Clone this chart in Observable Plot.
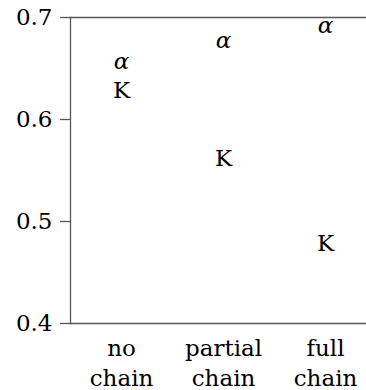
<!DOCTYPE html>
<html>
<head>
<meta charset="utf-8">
<script src="https://cdn.jsdelivr.net/npm/d3@7"></script>
<script src="https://cdn.jsdelivr.net/npm/@observablehq/plot@0.6"></script>
<style>
  html, body { margin: 0; padding: 0; background: #fff; }
</style>
</head>
<body>
<div id="chart"></div>
<script>
const categories = ["no chain", "partial chain", "full chain"];
const categoryLabels = ["no\nchain", "partial\nchain", "full\nchain"];
const alphaValues = [0.655, 0.675, 0.690];
const kValues = [0.628, 0.562, 0.478];
const yTicks = [0.4, 0.5, 0.6, 0.7];

const alphaData = categories.map((c, i) => ({cat: c, v: alphaValues[i]}));
const kData = categories.map((c, i) => ({cat: c, v: kValues[i]}));

const axisColor = "#555";

const chart = Plot.plot({
  width: 366,
  height: 390,
  marginLeft: 70,
  marginRight: 0,
  marginTop: 17,
  marginBottom: 67,
  style: {fontFamily: "'DejaVu Serif', serif", fontSize: "23px", color: "#000", background: "#fff"},
  x: {type: "point", domain: categories, range: [121, 325], padding: 0},
  y: {domain: [0.4, 0.7]},
  marks: [
    Plot.ruleY([0.4, 0.7], {stroke: axisColor, strokeWidth: 1.3}),
    Plot.frame({anchor: "left", stroke: axisColor, strokeWidth: 1.3}),
    Plot.axisY({ticks: yTicks, tickFormat: d => d.toFixed(1), tickSize: 10, tickPadding: 8,
      stroke: axisColor, strokeWidth: 1.3, fill: "#000", label: null, fontSize: 23}),
    Plot.axisX({tickFormat: d => categoryLabels[categories.indexOf(d)], tickSize: 0, tickPadding: 11,
      fill: "#000", label: null, lineHeight: 1.3, fontSize: 23}),
    Plot.text(alphaData, {x: "cat", y: "v", text: () => "α", fontStyle: "italic", fontSize: 23, dy: -2, fill: "#000"}),
    Plot.text(kData, {x: "cat", y: "v", text: () => "K", fontSize: 23, fill: "#000"})
  ]
});
document.getElementById("chart").appendChild(chart);
</script>
</body>
</html>
